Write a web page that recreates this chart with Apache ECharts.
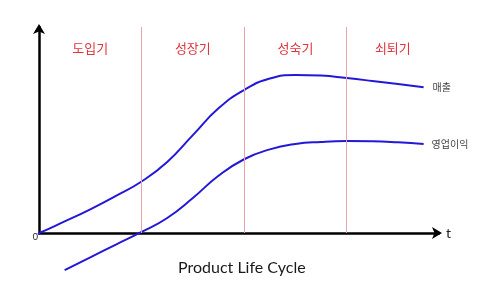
<!DOCTYPE html>
<html>
<head>
<meta charset="utf-8">
<script src="https://cdn.jsdelivr.net/npm/echarts@6/dist/echarts.min.js"></script>
<style>html,body{margin:0;padding:0;background:#fff;}#c{width:500px;height:299px;}</style>
</head>
<body>
<div id="c"></div>
<script>
// Data (x in time units, stage boundaries at 10/20/30)
const stageNames = ['도입기', '성장기', '성숙기', '쇠퇴기'];
const stageBounds = [0, 10, 20, 30, 39];
const salesName = '매출';
const salesData = [
  [-1.4, -2.0], [0, 0], [2.5, 5.6], [5, 11.5], [7.5, 18.0], [10, 25.0],
  [12.5, 34.5], [15, 47.5], [17.5, 60.5], [20, 69.4], [22.5, 75.0],
  [25, 76.7], [27.5, 76.4], [30, 75.2], [32.5, 73.8], [35, 72.3], [37.5, 70.8]
];
const profitName = '영업이익';
const profitData = [
  [2.5, -18.0], [5, -11.8], [7.5, -5.6], [10, 0.5], [12.5, 7.3], [15, 17.0],
  [17.5, 27.8], [20, 35.8], [22.5, 40.6], [25, 43.2], [27.5, 44.2],
  [30, 44.6], [32.5, 44.5], [35, 44.0], [37.5, 43.2]
];
const titleText = 'Product Life Cycle';
const xAxisName = 't';

const chart = echarts.init(document.getElementById('c'));
const lineStyle = { color: '#2418d8', width: 2 };
const markAreas = stageNames.map((n, i) => [
  { xAxis: stageBounds[i], name: n },
  { xAxis: stageBounds[i + 1] }
]);
const markLines = stageBounds.slice(1, 4).map(v => ({ xAxis: v }));

chart.setOption({
  animation: false,
  backgroundColor: '#fff',
  title: {
    text: titleText,
    left: 173, top: 255,
    textStyle: { fontFamily: 'Lato', fontSize: 16, fontWeight: 'normal', color: '#1a1a1a' }
  },
  grid: { left: 39, top: 27, width: 400, height: 206 },
  xAxis: {
    type: 'value', min: 0, max: 39, interval: 10,
    name: xAxisName, nameGap: 7,
    nameTextStyle: { fontFamily: 'Lato', fontSize: 14, color: '#222', verticalAlign: 'middle', padding: [0, 0, 3, 0] },
    axisLine: { lineStyle: { color: '#000', width: 2.5 }, symbol: ['none', 'arrow'], symbolSize: [9, 10], symbolOffset: [0, 3] },
    axisTick: { show: false },
    splitLine: { show: false },
    axisLabel: {
      formatter: v => (v === 0 ? '0' : ''), align: 'right', margin: 0,
      fontFamily: 'Lato', fontSize: 9, color: '#222', padding: [0, 1, 0, 0]
    }
  },
  yAxis: {
    type: 'value', min: 0, max: 100,
    axisLine: { show: true, lineStyle: { color: '#000', width: 2.5 }, symbol: ['none', 'arrow'], symbolSize: [9, 10], symbolOffset: [0, 3] },
    axisTick: { show: false }, axisLabel: { show: false }, splitLine: { show: false }
  },
  series: [
    {
      name: salesName, type: 'line', data: salesData, smooth: 0.5, showSymbol: false, clip: false,
      lineStyle: lineStyle,
      endLabel: { show: true, formatter: salesName, distance: 9, fontFamily: 'Noto Sans CJK KR', fontSize: 10, color: '#444' },
      markLine: {
        silent: true, symbol: 'none', label: { show: false },
        lineStyle: { color: '#e8a4ac', width: 1, type: 'solid' },
        data: markLines
      },
      markArea: {
        silent: true, itemStyle: { color: 'rgba(0,0,0,0)' },
        label: { show: true, position: 'insideTop', distance: 15, fontFamily: 'Noto Sans CJK KR', fontSize: 13, color: '#e0343e' },
        data: markAreas
      },
      z: 3
    },
    {
      name: profitName, type: 'line', data: profitData, smooth: 0.5, showSymbol: false, clip: false,
      lineStyle: lineStyle,
      endLabel: { show: true, formatter: profitName, distance: 8, fontFamily: 'Noto Sans CJK KR', fontSize: 10, color: '#444' },
      z: 3
    }
  ]
});
</script>
</body>
</html>
